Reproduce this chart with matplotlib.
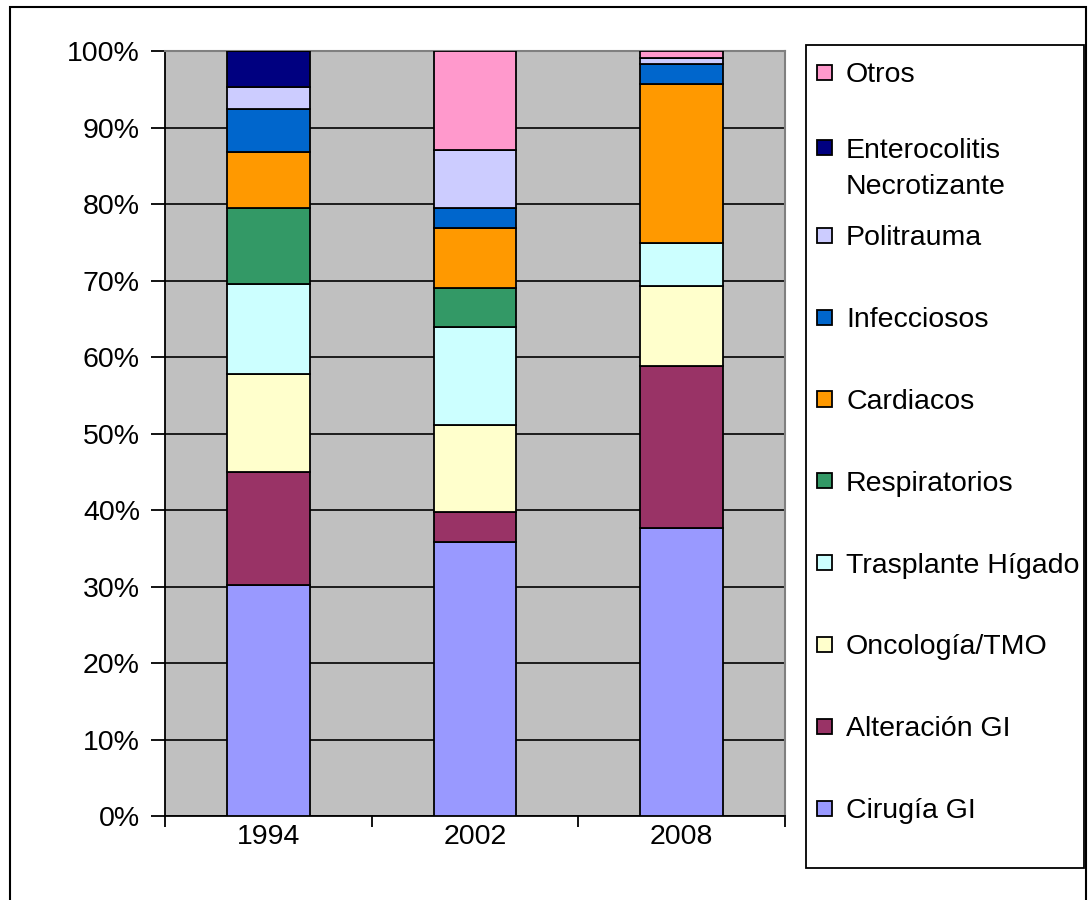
import matplotlib
matplotlib.use("Agg")
import matplotlib.pyplot as plt
from matplotlib.patches import Rectangle
from matplotlib.ticker import FuncFormatter, MultipleLocator

plt.rcParams['font.family'] = ['Liberation Sans', 'DejaVu Sans']

years = ['1994', '2002', '2008']
series = ['Cirugía GI', 'Alteración GI', 'Oncología/TMO', 'Trasplante Hígado',
          'Respiratorios', 'Cardiacos', 'Infecciosos', 'Politrauma',
          'Enterocolitis\nNecrotizante', 'Otros']
cirugia = [30.2, 35.8, 37.7]
alteracion = [14.8, 4.0, 21.2]
oncologia = [12.8, 11.4, 10.4]
trasplante = [11.8, 12.8, 5.7]
respiratorios = [9.9, 5.0, 0.0]
cardiacos = [7.3, 7.9, 20.7]
infecciosos = [5.7, 2.6, 2.6]
politrauma = [2.9, 7.6, 0.8]
enterocolitis = [4.6, 0.0, 0.0]
otros = [0.0, 12.9, 0.9]
values = [cirugia, alteracion, oncologia, trasplante, respiratorios,
          cardiacos, infecciosos, politrauma, enterocolitis, otros]
colors = ['#9999FF', '#993366', '#FFFFCC', '#CCFFFF', '#339966',
          '#FF9900', '#0066CC', '#CCCCFF', '#000080', '#FF99CC']

FS = 20.5
W, H = 1088, 900
fig = plt.figure(figsize=(W / 100, H / 100), dpi=100)

# outer chart border
fig.patches.append(Rectangle((10 / W, -0.01), (1086 - 10) / W, (H - 7) / H + 0.01,
                             transform=fig.transFigure, fill=False,
                             edgecolor='black', linewidth=1.5))

ax_l, ax_r, ax_t, ax_b = 165, 785, 51.4, 816
ax = fig.add_axes([ax_l / W, (H - ax_b) / H, (ax_r - ax_l) / W, (ax_b - ax_t) / H])
ax.set_facecolor('#C0C0C0')

x = list(range(len(years)))
bottom = [0.0] * len(years)
for vals, col in zip(values, colors):
    ax.bar(x, vals, width=0.4, bottom=bottom, color=col, edgecolor='black',
           linewidth=1.3, zorder=3)
    bottom = [b + v for b, v in zip(bottom, vals)]

ax.set_xlim(-0.5, 2.5)
ax.set_ylim(0, 100)
ax.yaxis.set_major_locator(MultipleLocator(10))
ax.yaxis.set_major_formatter(FuncFormatter(lambda v, p: f"{int(round(v))}%"))
ax.set_xticks(x)
ax.set_xticklabels(years)
ax.set_xticks([-0.5, 0.5, 1.5, 2.5], minor=True)
ax.tick_params(axis='x', which='major', length=0, pad=6, labelsize=FS)
ax.tick_params(axis='x', which='minor', length=8, width=1.3, direction='out')
ax.tick_params(axis='y', length=10, width=1.3, direction='out', pad=8, labelsize=FS)
ax.grid(axis='y', color='black', linewidth=1.2, zorder=0)
ax.set_axisbelow(True)
for s in ['top', 'right']:
    ax.spines[s].set_color('#808080')
    ax.spines[s].set_linewidth(1.5)
for s in ['left', 'bottom']:
    ax.spines[s].set_color('black')
    ax.spines[s].set_linewidth(1.3)

# legend box
lg_l, lg_r, lg_t, lg_b = 806, 1084, 45, 868
fig.patches.append(Rectangle((lg_l / W, (H - lg_b) / H), (lg_r - lg_l) / W, (lg_b - lg_t) / H,
                             transform=fig.transFigure, fill=True, facecolor='white',
                             edgecolor='black', linewidth=1.3, zorder=1))

centers = [808 - 81.8 * i for i in range(8)] + [147.5, 72.5]
sq = 15
for lab, col, cy in zip(series, colors, centers):
    fig.patches.append(Rectangle((817 / W, (H - cy - sq / 2) / H), sq / W, sq / H,
                                 transform=fig.transFigure, facecolor=col,
                                 edgecolor='black', linewidth=1.3, zorder=2))
    for j, line in enumerate(lab.split('\n')):
        base = cy + 10 + 36 * j
        fig.text(846 / W, (H - base) / H, line, fontsize=FS, va='baseline',
                 ha='left', zorder=3)

fig.savefig('out.png', dpi=100)
